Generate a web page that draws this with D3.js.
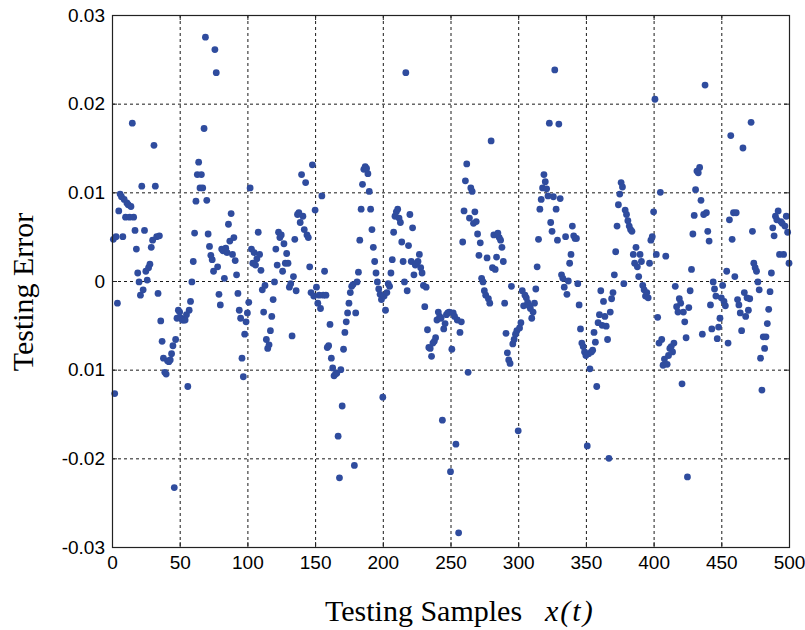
<!DOCTYPE html>
<html>
<head>
<meta charset="utf-8">
<script src="https://cdn.jsdelivr.net/npm/d3@7/dist/d3.min.js"></script>
<style>
  html, body { margin: 0; padding: 0; background: #fff; }
</style>
</head>
<body>
<div id="chart"></div>
<script>
// testing error per sample, in units of 1e-3, samples 1..500 (50 per block)
const err001 = [4.7, -12.7, 5.0, -2.5, 7.9, 9.8, 9.5, 5.0, 9.2, 7.2, 8.8, 8.6, 7.2, 8.4, 17.8, 7.2, 5.7, 3.6, 0.9, -0.1,
  -1.6, 10.7, -1.0, 5.7, 1.1, 0.1, 1.5, 1.9, 3.8, 4.6, 15.3, 10.7, 5.0, -1.4, 5.1, -4.5, -6.8, -8.7, -10.3, -10.5,
  -9.0, -9.1, -8.9, -8.2, -7.3, -23.3, -6.6, -4.2, -3.3, -3.5]
const err051 = [-4.2, -4.4, -4.4, -4.4, -3.8, -11.9, -3.3, -2.3, -0.1, 2.2, 5.4, 9.0, 12.0, 13.4, 10.5, 12.0, 10.5, 17.2, 27.5, 9.1,
  5.3, 3.9, 2.9, 2.4, 1.1, 26.1, 23.5, 1.6, -1.5, -2.7, 3.6, 3.4, 0.3, 3.7, 3.2, 6.4, 4.5, 7.6, 3.0, 4.9,
  2.3, 0.7, -1.4, -3.3, -4.2, -8.7, -10.8, -6.0, -4.6, -3.6]
const err101 = [-2.4, 10.5, 3.6, 2.0, 3.2, 1.8, 2.5, 5.5, 3.0, 1.2, -1.0, -3.5, -0.5, -6.6, -7.6, -7.2, -5.6, -4.0, -2.1, -0.1,
  3.6, 1.8, 5.5, 4.9, 5.2, 1.1, 4.2, 2.0, 3.1, 2.0, -0.7, -0.3, -6.2, 0.5, 4.7, -1.1, 7.5, 7.7, 6.6, 12.0,
  7.3, 5.8, 11.1, 5.2, 4.9, 1.6, -1.3, 13.1, -1.7, 8.0]
const err151 = [-0.7, -2.5, -1.6, -3.1, 9.6, -1.6, 1.1, -1.6, -7.5, -7.3, -4.9, -8.7, -9.8, -10.7, -10.5, -10.4, -17.5, -22.2, -10.0, -14.1,
  -7.7, -5.8, -4.6, -3.6, -2.5, -1.3, -0.6, -0.4, -20.8, -3.6, -0.1, 1.0, 4.6, 8.1, 10.9, 12.6, 12.9, 12.7, 12.1, 10.1,
  8.1, 5.8, 3.8, 2.2, 0.9, -0.1, -0.9, -1.5, -2.1, -13.1]
const err201 = [-1.7, -3.3, -1.3, -0.3, -0.6, 0.9, 2.4, 5.5, 7.3, 7.8, 8.1, 7.1, 6.6, 4.4, 2.2, -0.1, 23.5, -1.1, 4.0, 7.5,
  2.2, 6.0, 0.7, 1.8, 2.0, 2.2, 3.0, 1.5, 0.9, -0.5, -2.9, -0.7, -5.5, -7.5, -7.6, -8.5, -7.0, -6.8, -6.4, -4.4,
  -3.5, -4.0, -4.2, -15.7, -5.4, -4.8, -3.8, -3.6, -3.5, -21.5]
const err251 = [-7.7, -3.6, -4.0, -18.4, -4.4, -28.4, -5.8, -4.6, 4.4, 7.9, 11.3, 13.2, -10.3, 7.1, 10.5, 10.1, 6.5, 7.8, 6.7, 5.3,
  2.9, 4.3, 0.3, -0.1, -1.1, -1.6, 2.6, -2.0, -2.5, 15.8, 1.5, 5.2, 1.3, 2.7, 5.4, 4.9, 4.6, 3.8, 2.2, -2.5,
  -5.9, -8.1, -8.9, -9.3, -0.6, -7.1, -6.6, -6.0, -5.6, -16.9]
const err301 = [-5.3, -4.7, -1.1, -2.8, -1.6, -1.9, -2.4, -2.8, -3.1, -4.2, -3.5, -2.5, -0.9, 1.6, 4.7, 8.1, 9.2, 10.5, 12.0, 11.2,
  10.4, 9.6, 17.8, 6.6, 5.6, 9.5, 23.8, 8.1, 4.6, 17.7, 9.3, 0.7, 0.3, -0.7, 5.0, -1.5, 0.0, 2.0, 3.0, 6.2,
  5.1, 4.8, 4.8, -0.3, -2.7, -5.4, -7.0, -7.4, -8.0, -8.4]
const err351 = [-18.6, -8.2, -9.9, -8.0, -7.8, -5.8, -6.9, -11.9, -4.7, -3.8, -1.1, -5.0, -2.3, -4.0, -5.1, -6.6, -20.0, -3.5, -2.0, -1.3,
  0.7, 3.3, 6.2, 8.6, 9.8, 11.1, 10.6, -0.3, 8.0, 7.5, 6.8, 6.2, 5.8, 5.6, 3.0, 2.0, 3.8, 1.6, 0.5, 3.0,
  2.2, -0.5, -1.0, -1.7, -1.3, -1.9, 2.0, 4.6, 5.0, 7.8]
const err401 = [20.5, 3.0, -4.1, -7.0, 10.0, -6.6, -9.5, -8.8, 2.8, -9.4, -8.4, -7.6, -7.4, -8.0, -7.0, -0.6, -2.9, -3.5, -2.0, -2.5,
  -11.6, -3.5, -4.6, -6.4, -22.1, -3.0, -1.1, 1.3, 5.3, 7.4, 10.3, 12.4, 12.2, 12.8, 9.1, -6.0, 7.5, 22.1, 7.7, 5.6,
  4.5, -2.7, -5.4, -0.1, -0.9, -1.7, -6.5, -5.2, -4.2, -1.9]
const err451 = [-0.5, -2.3, -2.8, 1.1, -7.0, 6.9, 16.4, 4.7, 7.7, 0.5, 7.7, -2.1, -2.7, -3.6, -5.6, 15.0, -1.3, -4.0, -1.9, -3.3,
  -2.0, 17.9, 5.6, 2.0, 1.5, 1.1, -0.1, -1.0, -8.7, -12.3, -6.3, -7.6, -6.3, -4.8, -3.2, -1.2, 0.9, 6.0, 5.1, 7.3,
  6.9, 7.9, 3.0, 6.7, 6.5, 3.0, 6.2, 7.3, 5.5, 2.0]

const xTickValues = [0, 50, 100, 150, 200, 250, 300, 350, 400, 450, 500]
const yTickValues = [30, 20, 10, 0, -10, -20, -30]
const yTickLabels = ['0.03', '0.02', '0.01', '0', '0.01', '-0.02', '-0.03']

let errors = [].concat(err001, err051, err101, err151, err201, err251, err301, err351, err401, err451)
let samples = errors.map((d, i) => ({ sample: i + 1, err: d }))

let width = 805
let height = 630
let plotLeft = 112
let plotRight = 789
let plotTop = 15
let plotBottom = 547

let svg = d3.select('#chart').append('svg')
  .attr('width', width).attr('height', height)
  .style('background', '#fff')

let x = d3.scaleLinear().domain([0, 500]).range([plotLeft, plotRight])
let y = d3.scaleLinear().domain([-30, 30]).range([plotBottom, plotTop])

// 网格虚线
let grid = svg.append('g').attr('class', 'grid')
grid.selectAll('line.vg').data(xTickValues.slice(1, -1)).enter().append('line')
  .attr('class', 'vg')
  .attr('x1', d => x(d) + 0.5).attr('x2', d => x(d) + 0.5)
  .attr('y1', plotTop).attr('y2', plotBottom)
grid.selectAll('line.hg').data(yTickValues.slice(1, -1)).enter().append('line')
  .attr('class', 'hg')
  .attr('x1', plotLeft).attr('x2', plotRight)
  .attr('y1', d => y(d) + 0.5).attr('y2', d => y(d) + 0.5)
grid.selectAll('line')
  .attr('stroke', '#1a1a1a').attr('stroke-width', 1).attr('stroke-dasharray', '3,3')

// 散点
svg.append('g').attr('class', 'dots')
  .selectAll('circle').data(samples).enter().append('circle')
  .attr('cx', d => x(d.sample))
  .attr('cy', d => y(d.err))
  .attr('r', 3.4)
  .attr('fill', '#2f4c9e')

// 坐标轴 (刻度朝内)
let xAxis = d3.axisBottom(x).tickValues(xTickValues).tickSize(-5).tickPadding(9).tickFormat(d3.format('d'))
let yAxis = d3.axisLeft(y).tickValues(yTickValues).tickSize(-5).tickPadding(7)
  .tickFormat((d, i) => yTickLabels[i])

svg.append('g').attr('class', 'xAxis')
  .attr('transform', 'translate(0,' + plotBottom + ')').call(xAxis)
svg.append('g').attr('class', 'yAxis')
  .attr('transform', 'translate(' + plotLeft + ',0)').call(yAxis)
svg.append('g').attr('transform', 'translate(0,' + plotTop + ')')
  .call(d3.axisTop(x).tickValues(xTickValues).tickSize(-5).tickFormat(''))
svg.append('g').attr('transform', 'translate(' + plotRight + ',0)')
  .call(d3.axisRight(y).tickValues(yTickValues).tickSize(-5).tickFormat(''))

svg.selectAll('.domain').remove()
svg.selectAll('.tick line').attr('stroke', '#222')
svg.selectAll('.xAxis text, .yAxis text')
  .attr('fill', '#000')
  .style('font-family', '"Liberation Sans", Arial, sans-serif')
  .style('font-size', '19px')

// 外框
svg.append('rect')
  .attr('x', plotLeft + 0.5).attr('y', plotTop + 0.5)
  .attr('width', plotRight - plotLeft).attr('height', plotBottom - plotTop)
  .attr('fill', 'none').attr('stroke', '#222').attr('stroke-width', 1.2)

// 坐标轴标题
svg.append('text')
  .attr('transform', 'translate(33,292) rotate(-90)')
  .attr('text-anchor', 'middle')
  .style('font-family', '"Liberation Serif", "Times New Roman", serif')
  .style('font-size', '30px')
  .text('Testing Error')

let xtitle = svg.append('text')
  .attr('x', 325).attr('y', 621)
  .style('font-family', '"Liberation Serif", "Times New Roman", serif')
  .style('font-size', '30px')
xtitle.append('tspan').text('Testing Samples')
xtitle.append('tspan').attr('x', 545).style('font-style', 'italic').attr('letter-spacing', '2px').text('x(t)')
</script>
</body>
</html>
